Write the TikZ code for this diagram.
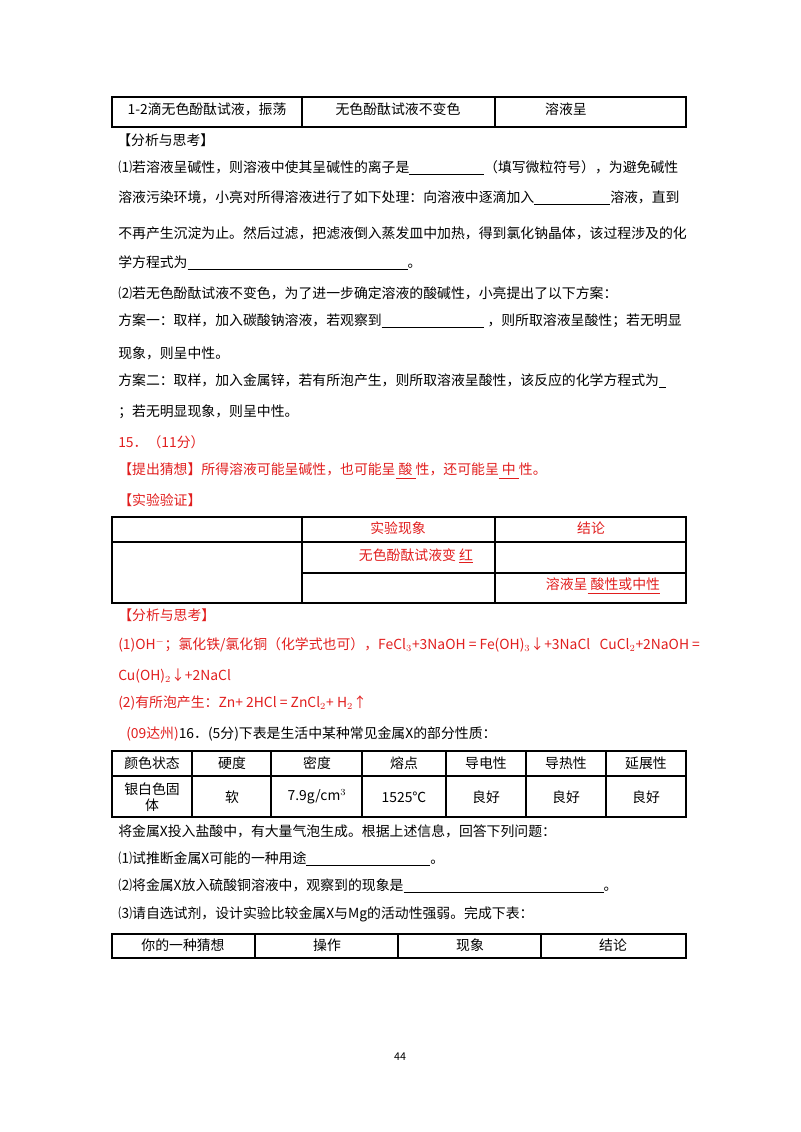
\documentclass[tikz,border=0pt]{standalone}
\usepackage{fontspec}
\setmainfont{Noto Sans CJK SC}
\begin{document}
\begin{tikzpicture}[x=0.75pt,y=-0.75pt,
  t/.style={anchor=west,inner sep=0pt,font=\fontsize{10.4}{12}\selectfont},
  c/.style={anchor=center,inner sep=0pt,font=\fontsize{10.4}{12}\selectfont},
  r/.style={text=red},
  tb/.style={line width=0.9pt}]
\useasboundingbox (0,0) rectangle (800,1132);
\definecolor{red}{RGB}{225,30,30}
\newcommand{\blank}[1]{\rule[-2pt]{#1pt}{0.6pt}}
% table 1
\draw[tb] (112,97) rectangle (686,127);
\draw[tb] (302,97) -- (302,127) (495,97) -- (495,127);
\node[c] (a1) at (207,109) {1-2滴无色酚酞试液，振荡};
\node[c] (a2) at (398,109) {无色酚酞试液不变色};
\node[c] (a3) at (566,109) {溶液呈};
\node[t] (b1) at (117,140) {【分析与思考】};
\node[t] (b2) at (118,168) {⑴若溶液呈碱性，则溶液中使其呈碱性的离子是\blank{56}（填写微粒符号），为避免碱性};
\node[t] (b3) at (118,198) {溶液污染环境，小亮对所得溶液进行了如下处理：向溶液中逐滴加入\blank{57}溶液，直到};
\node[t] (b4) at (118,233) {不再产生沉淀为止。然后过滤，把滤液倒入蒸发皿中加热，得到氯化钠晶体，该过程涉及的化};
\node[t] (b5) at (118,263) {学方程式为\blank{165}。};
\node[t] (b6) at (118,293) {⑵若无色酚酞试液不变色，为了进一步确定溶液的酸碱性，小亮提出了以下方案：};
\node[t] (b7) at (118,321) {方案一：取样，加入碳酸钠溶液，若观察到\blank{77}\ ，则所取溶液呈酸性；若无明显};
\node[t] (b8) at (118,353) {现象，则呈中性。};
\node[t] (b9) at (118,381) {方案二：取样，加入金属锌，若有所泡产生，则所取溶液呈酸性，该反应的化学方程式为\blank{5}};
\node[t] (b10) at (118,412) {；若无明显现象，则呈中性。};
% answers
\node[t,r] (c1) at (118,442) {15．（11分）};
\node[t,r] (c2) at (118,471) {【提出猜想】所得溶液可能呈碱性，也可能呈\underline{\ 酸\ }性，还可能呈\underline{\ 中\ }性。};
\node[t,r] (c3) at (118,500) {【实验验证】};
\draw[tb] (112,517) rectangle (686,603);
\draw[tb] (302,517) -- (302,603) (495,517) -- (495,603)
  (112,542) -- (686,542) (302,573) -- (686,573);
\node[c,r] (d1) at (398,528) {实验现象};
\node[c,r] (d2) at (591,528) {结论};
\node[c,r] (d3) at (416,556) {无色酚酞试液变\ \underline{红}};
\node[c,r] (d4) at (603,586) {溶液呈\underline{\ 酸性或中性}};
\node[t,r] (e1) at (118,615) {【分析与思考】};
\node[t,r] (e2) at (118,645) {(1)OH$^-$；氯化铁/氯化铜（化学式也可），FeCl$_3$+3NaOH = Fe(OH)$_3$↓+3NaCl\ \ \ CuCl$_2$+2NaOH =};
\node[t,r] (e3) at (118,676) {Cu(OH)$_2$↓+2NaCl};
\node[t,r] (e4) at (118,703) {(2)有所泡产生：Zn+ 2HCl = ZnCl$_2$+ H$_2$↑};
\node[t] (f1) at (126,734) {\textcolor{red}{(09达州)}16．(5分)下表是生活中某种常见金属X的部分性质：};
% table 3
\draw[tb] (112,751) rectangle (686,817);
\draw[tb] (112,776) -- (686,776);
\foreach \x in {192,271,362,446,526,606} \draw[tb] (\x,751) -- (\x,817);
\node[c] (g1) at (152,763) {颜色状态};
\node[c] (g2) at (232,763) {硬度};
\node[c] (g3) at (317,763) {密度};
\node[c] (g4) at (404,763) {熔点};
\node[c] (g5) at (486,763) {导电性};
\node[c] (g6) at (566,763) {导热性};
\node[c] (g7) at (646,763) {延展性};
\node[c,align=center] (h1) at (152,797) {银白色固\\体};
\node[c] (h2) at (232,797) {软};
\node[c] (h3) at (317,797) {7.9g/cm$^3$};
\node[c] (h4) at (404,797) {1525℃};
\node[c] (h5) at (486,797) {良好};
\node[c] (h6) at (566,797) {良好};
\node[c] (h7) at (646,797) {良好};
\node[t] (i1) at (118,831) {将金属X投入盐酸中，有大量气泡生成。根据上述信息，回答下列问题：};
\node[t] (i2) at (118,859) {⑴试推断金属X可能的一种用途\blank{93}。};
\node[t] (i3) at (118,886) {⑵将金属X放入硫酸铜溶液中，观察到的现象是\blank{150}。};
\node[t] (i4) at (118,914) {⑶请自选试剂，设计实验比较金属X与Mg的活动性强弱。完成下表：};
\draw[tb] (112,934) rectangle (686,958);
\foreach \x in {255,398,541} \draw[tb] (\x,934) -- (\x,958);
\node[c] (j1) at (183,945) {你的一种猜想};
\node[c] (j2) at (327,945) {操作};
\node[c] (j3) at (470,945) {现象};
\node[c] (j4) at (613,945) {结论};
\node[c,font=\fontsize{8}{9}\selectfont] (pg) at (400,1057) {44};
\end{tikzpicture}
\end{document}
